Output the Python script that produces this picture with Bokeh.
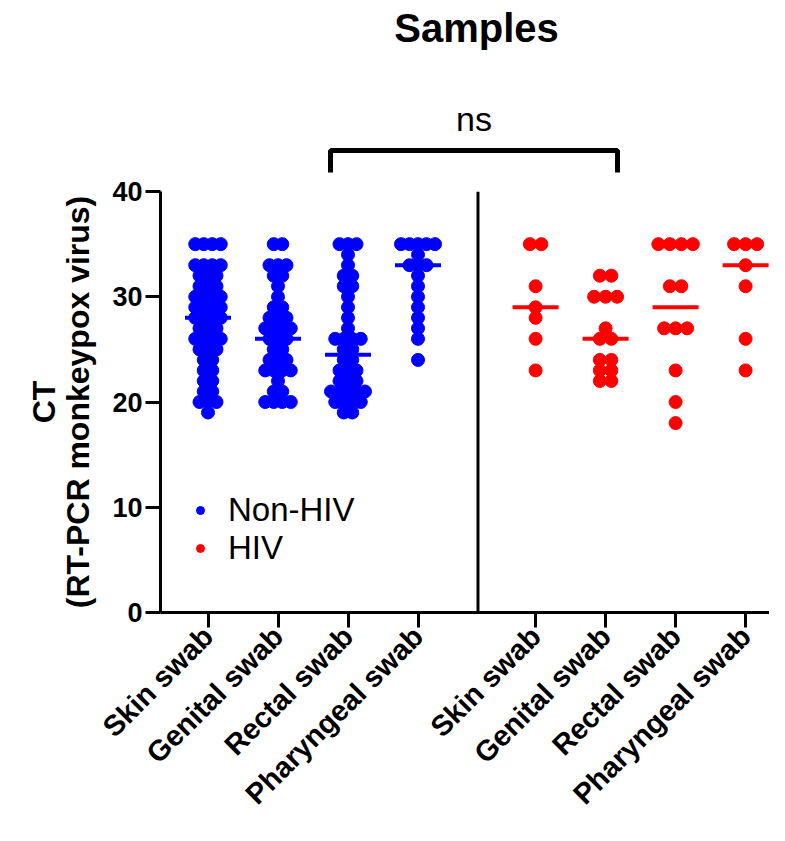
import numpy as np
from bokeh.plotting import figure
from bokeh.layouts import column
from bokeh.models import (Range1d, FixedTicker, Label, Legend, LegendItem,
                          ColumnDataSource, LinearAxis)
from bokeh.embed import file_html
from bokeh.resources import INLINE

# ---------------- data ----------------
samples = ["Skin swab", "Genital swab", "Rectal swab", "Pharyngeal swab"]
groups = ["Non-HIV", "HIV"]

non_hiv_skin = [35, 35, 35, 35, 33, 33, 33, 33, 32, 32, 32, 31, 31, 31, 30, 30, 30, 30,
                29, 29, 29, 29, 28, 28, 28, 28, 27, 27, 27, 26, 26, 26, 26, 25, 25, 25,
                24, 24, 23, 23, 22, 22, 21, 21, 20, 20, 20, 19]
non_hiv_genital = [35, 35, 33, 33, 33, 32, 32, 31, 30, 29, 29, 28, 28, 28, 27, 27, 27, 27,
                   26, 26, 26, 25, 25, 24, 24, 24, 23, 23, 23, 23, 22, 21, 21, 20, 20, 20, 20]
non_hiv_rectal = [35, 35, 35, 34, 33, 32, 32, 31, 31, 30, 29, 28, 27, 26, 26, 26, 26, 25, 25,
                  24, 24, 23, 23, 23, 22, 22, 22, 21, 21, 21, 21, 21, 20, 20, 20, 20, 19, 19]
non_hiv_pharyngeal = [35, 35, 35, 35, 35, 34, 33, 33, 33, 32, 31, 30, 29, 28, 27, 26, 24]

hiv_skin = [35, 35, 31, 29, 28, 26, 23]
hiv_genital = [32, 32, 30, 30, 30, 27, 26, 26, 24, 24, 23, 23, 22, 22]
hiv_rectal = [35, 35, 35, 35, 31, 31, 27, 27, 27, 23, 20, 18]
hiv_pharyngeal = [35, 35, 35, 33, 31, 26, 23]

y_ticks = [0, 10, 20, 30, 40]

# ---------------- geometry ----------------
W, H = 769, 825
LEFT = 160
FRAME_TOP = 191
FRAME_BOTTOM = 612
TOP_H = 174                      # height of the strip holding title / bracket
MAIN_TOP_BORDER = FRAME_TOP - TOP_H
BOTTOM = H - FRAME_BOTTOM
PX_X = 70.0                      # px per category step
PX_Y = (FRAME_BOTTOM - FRAME_TOP) / 40.0  # px per CT unit
HIV_SHIFT = 4.68                 # category offset of the HIV block
non_pos = [1.0, 2.0, 3.0, 4.0]
hiv_pos = [p + HIV_SHIFT for p in non_pos]
divider_x = 4.857

x0 = 1 - 47.5 / PX_X
x1 = x0 + (W - LEFT) / PX_X
xr = Range1d(x0, x1)

BLUE = "#0000FF"
RED = "#FF0000"
FONT = "Liberation Sans"


def row_offsets(vals, spacing_px):
    vals = np.asarray(vals, float)
    off = np.zeros(len(vals))
    for v in np.unique(vals):
        idx = np.where(vals == v)[0]
        n = len(idx)
        off[idx] = (np.arange(n) - (n - 1) / 2.0) * spacing_px
    return off / PX_X


def build(series, positions, spacing):
    xs, ys, mx0, mx1, my = [], [], [], [], []
    for vals, pos in zip(series, positions):
        off = row_offsets(vals, spacing)
        xs.extend(list(pos + off))
        ys.extend(list(vals))
        m = float(np.median(vals))
        mx0.append(pos - 23 / PX_X)
        mx1.append(pos + 23 / PX_X)
        my.append(m)
    return (ColumnDataSource(dict(x=xs, y=ys)),
            ColumnDataSource(dict(x0=mx0, x1=mx1, y=my)))


# ---------------- top strip: title, bracket, "ns" ----------------
y_top_lo = 40 + MAIN_TOP_BORDER / PX_Y
top = figure(width=W, height=TOP_H, output_backend="svg", toolbar_location=None,
             x_range=xr, y_range=Range1d(y_top_lo, y_top_lo + TOP_H / PX_Y),
             x_axis_type=None, y_axis_type=None,
             min_border_left=LEFT, min_border_right=0, min_border_top=0,
             min_border_bottom=0)
top.outline_line_color = None
top.grid.visible = False

bx0, bx1 = 2.75, 6.85
top.line([bx0, bx0, bx1, bx1], [41.8, 43.9, 43.9, 41.8], line_color="black", line_width=5)
top.add_layout(Label(x=(bx0 + bx1) / 2, y=46.9, text="ns", text_align="center",
                     text_baseline="middle", text_font=FONT, text_font_size="34px",
                     text_color="black"))
top.add_layout(Label(x=4.836, y=55.5, text="Samples", text_align="center",
                     text_baseline="middle", text_font=FONT, text_font_size="40px",
                     text_font_style="bold", text_color="black"))

# ---------------- main plot ----------------
p = figure(width=W, height=H - TOP_H, output_backend="svg", toolbar_location=None,
           x_range=xr, y_range=Range1d(0, 40),
           min_border_left=LEFT, min_border_right=0, min_border_top=MAIN_TOP_BORDER,
           min_border_bottom=BOTTOM)
p.outline_line_color = None
p.grid.visible = False
p.background_fill_color = "white"

src_n, med_n = build([non_hiv_skin, non_hiv_genital, non_hiv_rectal, non_hiv_pharyngeal],
                     non_pos, 8.5)
src_h, med_h = build([hiv_skin, hiv_genital, hiv_rectal, hiv_pharyngeal], hiv_pos, 11.5)

r_n = p.scatter("x", "y", source=src_n, size=13, color=BLUE, line_color=BLUE)
r_h = p.scatter("x", "y", source=src_h, size=13, color=RED, line_color=RED)
p.segment(x0="x0", y0="y", x1="x1", y1="y", source=med_n, line_color=BLUE, line_width=4)
p.segment(x0="x0", y0="y", x1="x1", y1="y", source=med_h, line_color=RED, line_width=4)

# divider between the two groups
p.segment(x0=[divider_x], y0=[0], x1=[divider_x], y1=[40], line_color="black", line_width=3)

for ax in (p.xaxis[0], p.yaxis[0]):
    ax.axis_line_width = 3
    ax.axis_line_color = "black"
    ax.major_tick_line_width = 3
    ax.major_tick_line_color = "black"
    ax.major_tick_out = 15
    ax.major_tick_in = 0
    ax.minor_tick_line_color = None
    ax.major_label_text_font = FONT
    ax.major_label_text_font_style = "bold"
    ax.major_label_text_color = "black"

p.yaxis.ticker = FixedTicker(ticks=y_ticks)
p.yaxis.major_label_text_font_size = "27px"
p.yaxis.major_label_standoff = 3
p.yaxis.axis_label = "(RT-PCR monkeypox virus)"
p.yaxis.axis_label_text_font = FONT
p.yaxis.axis_label_text_font_size = "32px"
p.yaxis.axis_label_text_font_style = "bold"
p.yaxis.axis_label_text_color = "black"
p.yaxis.axis_label_standoff = 13

ct_axis = LinearAxis(ticker=FixedTicker(ticks=[]),
                     axis_line_color=None, major_tick_out=0, major_tick_in=0,
                     minor_tick_line_color=None, major_label_standoff=0,
                     axis_label="CT", axis_label_text_font=FONT,
                     axis_label_text_font_size="32px", axis_label_text_font_style="bold",
                     axis_label_text_color="black", axis_label_standoff=-4)
p.add_layout(ct_axis, "left")

tick_pos = non_pos + hiv_pos
p.xaxis.ticker = FixedTicker(ticks=tick_pos)
p.xaxis.major_label_overrides = {t: lab for t, lab in zip(tick_pos, samples + samples)}
p.xaxis.major_label_orientation = np.pi / 4
p.xaxis.major_label_text_font_size = "29px"
p.xaxis.major_label_standoff = 4

legend = Legend(items=[LegendItem(label=groups[0], renderers=[r_n]),
                       LegendItem(label=groups[1], renderers=[r_h])],
                location=(30, 45), border_line_color=None, background_fill_alpha=0,
                padding=0, margin=0, spacing=0, glyph_width=20, glyph_height=30,
                label_standoff=18, label_text_font=FONT, label_text_font_size="33px",
                label_text_color="black")
p.add_layout(legend)

layout = column(top, p, spacing=0)
open("out.html", "w").write(file_html(layout, INLINE))
